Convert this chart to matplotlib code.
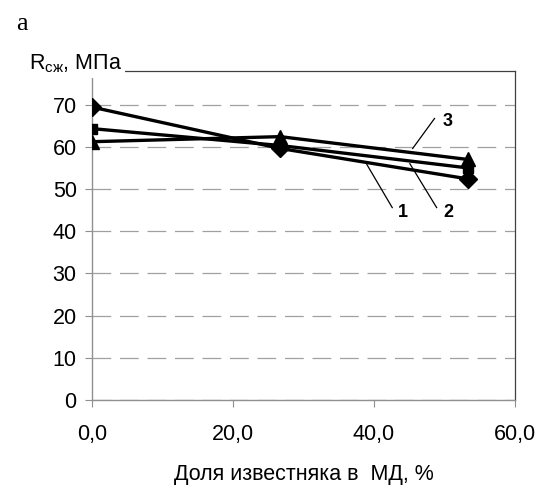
import numpy as np
import matplotlib.pyplot as plt

plt.rcParams['font.family'] = ['Liberation Sans', 'DejaVu Sans']
plt.rcParams['mathtext.fontset'] = 'custom'
plt.rcParams['mathtext.rm'] = 'Liberation Sans'

# доля известняка в МД, %
dolya = [0.0, 26.7, 53.3]
# прочность на сжатие, МПа
r1 = [69.4, 59.6, 52.4]
r2 = [64.3, 60.3, 55.0]
r3 = [61.2, 62.4, 57.0]

fig = plt.figure(figsize=(5.38, 4.88), dpi=100)
ax = fig.add_axes([0.171, 0.180, 0.786, 0.675])

ax.plot(dolya, r1, color='black', lw=2.4, marker='D', ms=9.5, zorder=3)
ax.plot(dolya, r2, color='black', lw=2.4, marker='s', ms=7, zorder=3)
ax.plot(dolya, r3, color='black', lw=2.4, marker='^', ms=10, zorder=3)

ax.set_xlim(0, 60)
ax.set_ylim(0, 78)
ax.set_xticks([0, 20, 40, 60])
ax.set_xticklabels(['0,0', '20,0', '40,0', '60,0'])
ax.set_yticks(range(0, 80, 10))

ax.grid(axis='y', color='#a0a0a0', lw=0.9, linestyle=(0, (15, 7)))
ax.set_axisbelow(True)

for s in ['left', 'bottom']:
    ax.spines[s].set_color('#909090')
    ax.spines[s].set_linewidth(1.0)
for s in ['top', 'right']:
    ax.spines[s].set_color('#404040')
    ax.spines[s].set_linewidth(0.9)

ax.tick_params(axis='both', direction='out', length=5, color='#909090',
               labelsize=15.5, pad=6)
ax.tick_params(axis='x', pad=12)

ax.set_xlabel('Доля известняка в  МД, %', fontsize=15.5, labelpad=14)

# подпись оси Y над осью
ax.text(-0.15, 1.02, r'R$_{\mathrm{сж}}$, МПа', transform=ax.transAxes,
        fontsize=15.5, ha='left', va='center',
        bbox=dict(facecolor='white', edgecolor='none', pad=2), zorder=5)

# номера кривых с выносками
ax.plot([48.6, 45.5], [66.7, 59.6], color='black', lw=0.9)
ax.plot([42.6, 39.0], [45.6, 55.8], color='black', lw=0.9)
ax.plot([48.9, 45.1], [45.6, 56.0], color='black', lw=0.9)
for txt, x, y in [('3', 50.4, 66.0), ('1', 44.1, 44.5), ('2', 50.5, 44.5)]:
    ax.text(x, y, txt, fontsize=13, fontweight='bold',
            ha='center', va='center')

fig.text(0.04, 0.95, 'а', fontsize=19, family='Liberation Serif',
         ha='center', va='center')

fig.savefig('out.png', dpi=100)
